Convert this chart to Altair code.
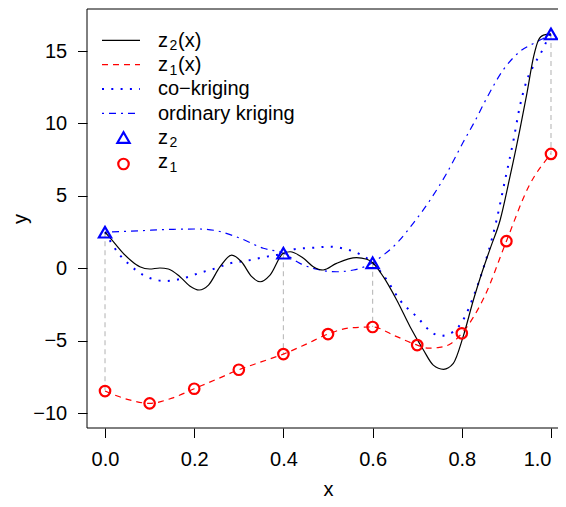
import altair as alt
import pandas as pd

# ---------------- data ----------------
# true high-fidelity function z2(x)
z2_x = [0.0, 0.02, 0.041, 0.06, 0.078, 0.10, 0.123, 0.142, 0.168, 0.19, 0.211, 0.232,
        0.258, 0.284, 0.306, 0.329, 0.348, 0.37, 0.40, 0.415, 0.445, 0.467, 0.489,
        0.519, 0.564, 0.587, 0.60, 0.624, 0.654, 0.684, 0.714, 0.736, 0.759, 0.781,
        0.803, 0.826, 0.841, 0.864, 0.886, 0.908, 0.930, 0.946, 0.961, 0.972, 0.983, 1.0]
z2_y = [2.50, 1.80, 1.04, 0.50, 0.12, -0.04, 0.03, -0.04, -0.57, -1.21, -1.49, -1.15,
        0.12, 0.92, 0.46, -0.57, -0.92, -0.46, 1.05, 1.15, 0.70, 0.12, -0.11,
        0.35, 0.74, 0.63, 0.39, -0.57, -2.18, -4.02, -5.63, -6.67, -6.96, -6.55,
        -4.71, -2.18, -0.68, 1.40, 3.34, 6.33, 9.55, 12.08, 14.61, 15.76, 16.10, 16.18]

# true low-fidelity function z1(x)
z1_x = [0.0, 0.05, 0.1, 0.15, 0.2, 0.25, 0.3, 0.35, 0.4, 0.45, 0.5, 0.55, 0.6,
        0.65, 0.7, 0.725, 0.75, 0.775, 0.8, 0.85, 0.9, 0.95, 1.0]
z1_y = [-8.46, -9.03, -9.31, -8.95, -8.30, -7.65, -6.99, -6.45, -5.91, -5.24, -4.53,
        -4.10, -4.04, -4.65, -5.29, -5.50, -5.45, -5.20, -4.48, -2.00, 1.88, 5.65, 7.90]

# co-kriging prediction
ck_x = [0.0, 0.03, 0.056, 0.086, 0.116, 0.138, 0.157, 0.176, 0.213, 0.247, 0.280,
        0.314, 0.355, 0.40, 0.422, 0.467, 0.504, 0.541, 0.572, 0.60, 0.632, 0.661,
        0.699, 0.736, 0.755, 0.781, 0.807, 0.826, 0.841, 0.878, 0.897, 0.916, 0.930,
        0.946, 0.964, 0.979, 0.990, 1.0]
ck_y = [2.50, 1.04, 0.23, -0.46, -0.80, -0.87, -0.80, -0.68, -0.30, 0.0, 0.35,
        0.51, 0.77, 1.05, 1.32, 1.43, 1.50, 1.32, 0.97, 0.39, -0.80, -2.18,
        -3.33, -4.48, -4.64, -4.37, -3.33, -1.95, -0.68, 3.34, 6.10, 8.86, 11.16,
        13.00, 14.15, 14.96, 15.65, 16.18]

# ordinary kriging prediction
ok_x = [0.0, 0.078, 0.153, 0.213, 0.25, 0.303, 0.355, 0.40, 0.437, 0.482, 0.519,
        0.557, 0.60, 0.624, 0.654, 0.691, 0.729, 0.766, 0.803, 0.830, 0.855, 0.893,
        0.930, 0.961, 0.979, 1.0]
ok_y = [2.50, 2.60, 2.70, 2.72, 2.60, 2.08, 1.39, 1.05, 0.35, -0.11, -0.23,
        -0.11, 0.39, 0.92, 1.73, 3.11, 4.72, 6.56, 8.70, 10.20, 11.70, 13.70,
        14.96, 15.53, 15.81, 16.18]

# observations
obs2_x = [0.0, 0.4, 0.6, 1.0]
obs2_y = [2.50, 1.05, 0.39, 16.18]
obs1_x = [0.0, 0.1, 0.2, 0.3, 0.4, 0.5, 0.6, 0.7, 0.8, 0.9, 1.0]
obs1_y = [-8.46, -9.31, -8.30, -6.99, -5.91, -4.53, -4.04, -5.29, -4.48, 1.88, 7.90]

x_ticks = [0.0, 0.2, 0.4, 0.6, 0.8, 1.0]
y_ticks = [-10, -5, 0, 5, 10, 15]

legend_main = ["z", "z", "co\u2212kriging", "ordinary kriging", "z", "z"]
legend_sub = ["2", "1", "", "", "2", "1"]
legend_tail = ["(x)", "(x)", "", "", "", ""]

# ---------------- styling / layout ----------------
FONT = "Liberation Sans"
FS = 20
W, H = 471, 419
X_DOM = [-0.0404, 1.0157]
Y_DOM = [-11.01, 17.90]
BLUE = "#0000FF"
RED = "#FF0000"
GRAY = "#BEBEBE"

xs = alt.Scale(domain=X_DOM, nice=False, zero=False)
ys = alt.Scale(domain=Y_DOM, nice=False, zero=False)

xaxis = alt.Axis(values=x_ticks, format=".1f", title="x", grid=False, domain=False,
                 tickSize=9.5, tickColor="black", tickWidth=1,
                 labelFont=FONT, labelFontSize=FS, labelColor="black",
                 labelBaseline="alphabetic", labelPadding=27.5, labelFlush=10,
                 titleFont=FONT, titleFontSize=FS, titleFontWeight="normal",
                 titleColor="black", titleX=241, titleY=67,
                 titleBaseline="alphabetic", titleAlign="center")
yaxis = alt.Axis(values=y_ticks, title="y", grid=False, domain=False,
                 tickSize=9.5, tickColor="black", tickWidth=1,
                 labelFont=FONT, labelFontSize=FS, labelColor="black",
                 labelPadding=10.8, labelFlush=False,
                 titleFont=FONT, titleFontSize=FS, titleFontWeight="normal",
                 titleColor="black", titleX=-61, titleY=209.5, titleAngle=270,
                 titleBaseline="alphabetic", titleAlign="center")


def enc(ch):
    return ch.encode(x=alt.X("x:Q", scale=xs, axis=xaxis),
                     y=alt.Y("y:Q", scale=ys, axis=yaxis))


def line(xv, yv, color, dash=None, width=1.2):
    kw = dict(color=color, strokeWidth=width, interpolate="monotone", clip=True)
    if dash:
        kw["strokeDash"] = dash
    return enc(alt.Chart(pd.DataFrame({"x": xv, "y": yv})).mark_line(**kw))


# vertical guide lines linking the z2 observations with z1 at the same x
z1_lookup = dict(zip(obs1_x, obs1_y))
guide_df = pd.DataFrame({"x": obs2_x, "y": obs2_y,
                         "y2": [z1_lookup[v] for v in obs2_x]})
guides = alt.Chart(guide_df).mark_rule(color=GRAY, strokeWidth=1.2,
                                        strokeDash=[5, 4]).encode(
    x=alt.X("x:Q", scale=xs, axis=xaxis),
    y=alt.Y("y:Q", scale=ys, axis=yaxis),
    y2="y2:Q")

DASH_RED = [6, 5]
DOT_BLUE = [2, 7.3]
DASHDOT_BLUE = [2, 5, 7, 5]

l_z2 = line(z2_x, z2_y, "black", width=1.2)
l_z1 = line(z1_x, z1_y, RED, DASH_RED)
l_ck = line(ck_x, ck_y, BLUE, DOT_BLUE, width=2)
l_ok = line(ok_x, ok_y, BLUE, DASHDOT_BLUE)

p_z2 = enc(alt.Chart(pd.DataFrame({"x": obs2_x, "y": obs2_y})).mark_point(
    shape="triangle-up", filled=False, color=BLUE, size=150, strokeWidth=2.2,
    opacity=1))
p_z1 = enc(alt.Chart(pd.DataFrame({"x": obs1_x, "y": obs1_y})).mark_point(
    shape="circle", filled=False, color=RED, size=110, strokeWidth=2.2,
    opacity=1))

one = pd.DataFrame({"a": [0]})

# plot frame: left, top and bottom sides (right side lies beyond the picture)
frame = [
    alt.Chart(one).mark_rule(color="black", strokeWidth=1).encode(
        x=alt.value(0), y=alt.value(0), y2=alt.value(H)),
    alt.Chart(one).mark_rule(color="black", strokeWidth=1).encode(
        x=alt.value(0), x2=alt.value(W), y=alt.value(0)),
    alt.Chart(one).mark_rule(color="black", strokeWidth=1).encode(
        x=alt.value(0), x2=alt.value(W), y=alt.value(H)),
]

# ---------------- manual legend (pixel positions inside plot area) ----------------
OX, OY = 87, 9
base = [46.7 + 24.3 * i for i in range(6)]
leg = []
styles = [("black", None, 1.2), (RED, DASH_RED, 1.2), (BLUE, DOT_BLUE, 2),
          (BLUE, DASHDOT_BLUE, 1.2)]
for i, (c, d, w) in enumerate(styles):
    kw = dict(color=c, strokeWidth=w)
    if d:
        kw["strokeDash"] = d
    leg.append(alt.Chart(one).mark_rule(**kw).encode(
        x=alt.value(102 - OX), x2=alt.value(140 - OX),
        y=alt.value(base[i] - 6.3 - OY)))
leg.append(alt.Chart(one).mark_point(shape="triangle-up", filled=False, color=BLUE,
                                     size=150, strokeWidth=2.2, opacity=1).encode(
    x=alt.value(123.5 - OX), y=alt.value(137.5 - OY)))
leg.append(alt.Chart(one).mark_point(shape="circle", filled=False, color=RED,
                                     size=110, strokeWidth=2.2, opacity=1).encode(
    x=alt.value(123.5 - OX), y=alt.value(164 - OY)))
for i in range(6):
    leg.append(alt.Chart(pd.DataFrame({"t": [legend_main[i]]})).mark_text(
        font=FONT, fontSize=FS, align="left", baseline="alphabetic",
        color="black").encode(x=alt.value(158 - OX), y=alt.value(base[i] - OY),
                              text="t:N"))
    if legend_sub[i]:
        leg.append(alt.Chart(pd.DataFrame({"t": [legend_sub[i]]})).mark_text(
            font=FONT, fontSize=14, align="left", baseline="alphabetic",
            color="black").encode(x=alt.value(169.5 - OX),
                                  y=alt.value(base[i] + 3.5 - OY), text="t:N"))
    if legend_tail[i]:
        leg.append(alt.Chart(pd.DataFrame({"t": [legend_tail[i]]})).mark_text(
            font=FONT, fontSize=FS, align="left", baseline="alphabetic",
            color="black").encode(x=alt.value(178 - OX), y=alt.value(base[i] - OY),
                                  text="t:N"))

chart = alt.layer(guides, l_z1, l_ok, l_ck, l_z2, p_z1, p_z2, *frame, *leg).properties(
    width=W, height=H,
    autosize=alt.AutoSizeParams(type="none"),
    padding={"left": 79, "top": 1, "right": 0, "bottom": 71},
    background="white",
).configure_view(strokeWidth=0)

chart.save("out.html", embed_options={"renderer": "svg", "actions": False})
